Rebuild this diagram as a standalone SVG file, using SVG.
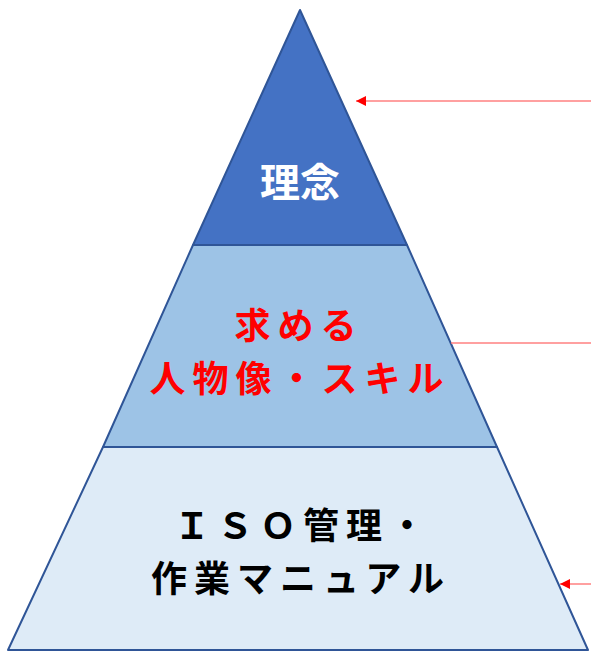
<svg xmlns="http://www.w3.org/2000/svg" width="591" height="653" viewBox="0 0 591 653">
<style>
.band{stroke:#2F5597;stroke-width:2;stroke-linejoin:round}
.t{font-family:"Noto Sans CJK JP","Noto Sans",sans-serif;font-weight:bold;font-size:36px;text-anchor:middle;letter-spacing:7px}
.conn{stroke:#FF8080;stroke-width:1.5;fill:none}
</style>
<defs>
<marker id="ah" viewBox="0 0 10 10" refX="10" refY="5" markerWidth="11" markerHeight="10" markerUnits="userSpaceOnUse" orient="auto">
<path d="M0,0 L10,5 L0,10 z" fill="#FF0000"/>
</marker>
</defs>
<rect width="591" height="653" fill="#FFFFFF"/>
<g id="bottom">
<polygon class="band" points="103,447 497,447 588,650 8,650" fill="#DEEBF7"/>
<text class="t" fill="#000000"><tspan x="303" y="539">ＩＳＯ管理・</tspan><tspan x="301" y="592">作業マニュアル</tspan></text>
</g>
<g id="middle">
<polygon class="band" points="193,245 407,245 497,447 103,447" fill="#9DC3E6"/>
<text class="t" fill="#FF0000"><tspan x="299" y="339">求める</tspan><tspan x="300" y="392">人物像・スキル</tspan></text>
</g>
<g id="top">
<polygon class="band" points="300,10 407,245 193,245" fill="#4472C4"/>
<text class="t" x="300" y="197" fill="#FFFFFF" style="font-size:40px;letter-spacing:0">理念</text>
</g>
<g id="connectors">
<line class="conn" x1="591" y1="101" x2="356" y2="101" marker-end="url(#ah)"/>
<line class="conn" x1="591" y1="343" x2="451" y2="343"/>
<line class="conn" x1="591" y1="584" x2="560" y2="584" marker-end="url(#ah)"/>
</g>
</svg>
